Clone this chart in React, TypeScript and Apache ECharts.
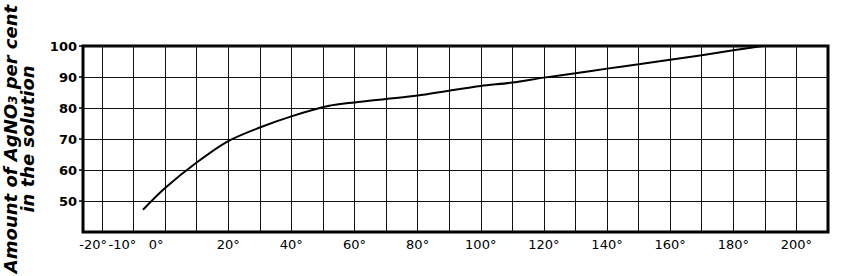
import React, { useEffect, useRef } from 'react';
import * as echarts from 'echarts';

// Curve (temperature °C -> per cent AgNO3 in solution)
const temperatures = [-7, 0, 10, 20, 30, 40, 52, 60, 70, 80, 90, 100, 110, 120, 130, 140, 150, 160, 170, 180, 190, 197];
const agno3Percent = [47.2, 54.2, 62.4, 69.3, 73.7, 77.3, 80.7, 81.8, 82.9, 84.0, 85.6, 87.1, 88.2, 89.8, 91.2, 92.7, 94.1, 95.6, 97.0, 98.6, 100.1, 101.0];

// Vertical grid lines (every 10°)
const xGridValues = [-20, -10, 0, 10, 20, 30, 40, 50, 60, 70, 80, 90, 100, 110, 120, 130, 140, 150, 160, 170, 180, 190, 200];
// Tick labels on the temperature axis
const xTickValues = [-20, -10, 0, 20, 40, 60, 80, 100, 120, 140, 160, 180, 200];
const xTickLabels = ['-20°', '-10°', '0°', '20°', '40°', '60°', '80°', '100°', '120°', '140°', '160°', '180°', '200°'];
// Tick labels on the percentage axis
const yTickValues = [50, 60, 70, 80, 90, 100];

export default function App() {
  const ref = useRef<HTMLDivElement>(null);

  useEffect(() => {
    if (!ref.current) return;
    const chart = echarts.init(ref.current, undefined, { renderer: 'svg' });

    // the three leftmost labels are printed crowded to the left in the original
    const labelNudge: Record<string, number> = { '-20': -2.8, '-10': -3.5, '0': -2.8 };
    const labelAnchors = xTickValues.map((v) => v + (labelNudge[String(v)] || 0));

    const titleFont = {
      fontFamily: 'DejaVu Sans',
      fontWeight: 'bold' as const,
      fontStyle: 'italic' as const,
      color: '#000',
    };

    chart.setOption({
      animation: false,
      backgroundColor: '#fff',
      grid: {
        left: 83,
        right: 28,
        top: 46,
        bottom: 44,
        containLabel: false,
        outerBoundsMode: 'none',
        show: true,
        borderColor: '#000',
        borderWidth: 3,
        backgroundColor: 'transparent',
      },
      xAxis: {
        type: 'value',
        min: -26,
        max: 210,
        axisLine: { show: false, onZero: false },
        axisTick: { show: false, customValues: xGridValues },
        splitLine: { show: true, lineStyle: { color: '#111', width: 1 } },
        axisLabel: {
          customValues: labelAnchors,
          showMinLabel: true,
          showMaxLabel: true,
          hideOverlap: false,
          margin: 6,
          color: '#000',
          fontFamily: 'DejaVu Sans',
          fontSize: 13,
          formatter: (value: number) => {
            const i = labelAnchors.findIndex((a) => Math.abs(a - value) < 1e-6);
            return i >= 0 ? xTickLabels[i] : '';
          },
        },
      },
      yAxis: {
        type: 'value',
        min: 40,
        max: 100,
        interval: 10,
        axisLine: { show: false, onZero: false },
        axisTick: {
          show: true,
          length: 4,
          customValues: yTickValues,
          lineStyle: { color: '#000', width: 1.5 },
        },
        splitLine: { show: true, lineStyle: { color: '#111', width: 1 } },
        axisLabel: {
          customValues: yTickValues,
          showMinLabel: true,
          showMaxLabel: true,
          margin: 6,
          color: '#000',
          fontFamily: 'DejaVu Sans',
          fontWeight: 'bold',
          fontSize: 13,
        },
        name: '{t|Amount of AgNO}{s|3}{t| per cent}\n{t|in the solution}',
        nameLocation: 'middle',
        nameRotate: 90,
        nameGap: 47,
        nameTextStyle: {
          lineHeight: 17,
          rich: {
            t: { ...titleFont, fontSize: 18, lineHeight: 17 },
            s: { ...titleFont, fontSize: 12, lineHeight: 17, verticalAlign: 'bottom' },
          },
        },
      },
      series: [
        {
          type: 'line',
          data: temperatures.map((t, i) => [t, agno3Percent[i]]),
          showSymbol: false,
          smooth: 0.3,
          clip: true,
          lineStyle: { color: '#000', width: 2 },
          z: 5,
        },
      ],
    });

    return () => {
      chart.dispose();
    };
  }, []);

  return (
    <div
      ref={ref}
      style={{ position: 'absolute', left: 0, top: 0, width: 856, height: 276, background: '#fff' }}
    />
  );
}
